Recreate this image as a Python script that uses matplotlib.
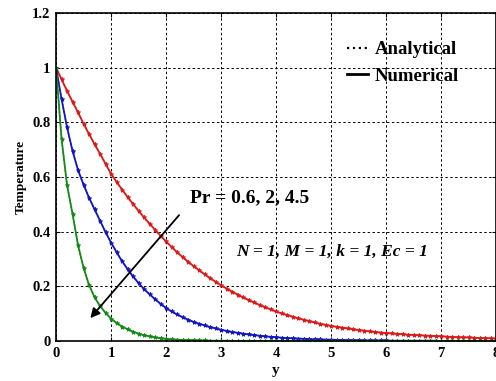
import numpy as np
import matplotlib
matplotlib.use('Agg')
import matplotlib.pyplot as plt

plt.rcParams['font.family'] = ['Liberation Serif', 'DejaVu Serif']
plt.rcParams['font.weight'] = 'bold'

# y values 0 .. 8, step 0.1
y = np.round(np.arange(0, 8.01, 0.1), 1)

# temperature, Pr = 0.6
t_pr06 = [1.000, 0.957, 0.915, 0.875, 0.836, 0.795, 0.757, 0.720, 0.685, 0.648,
          0.612, 0.582, 0.554, 0.527, 0.501, 0.476, 0.452, 0.429, 0.407, 0.385,
          0.364, 0.344, 0.325, 0.307, 0.290, 0.274, 0.259, 0.244, 0.230, 0.217,
          0.204, 0.192, 0.181, 0.170, 0.160, 0.150, 0.141, 0.132, 0.124, 0.116,
          0.108, 0.101, 0.095, 0.089, 0.083, 0.078, 0.073, 0.068, 0.063, 0.059,
          0.055, 0.052, 0.049, 0.046, 0.043, 0.040, 0.038, 0.035, 0.033, 0.031,
          0.029, 0.028, 0.026, 0.025, 0.023, 0.022, 0.021, 0.020, 0.019, 0.018,
          0.017, 0.016, 0.015, 0.014, 0.013, 0.013, 0.012, 0.011, 0.010, 0.010,
          0.009]

# Pr = 2
t_pr2 = [1.000, 0.885, 0.782, 0.695, 0.625, 0.572, 0.524, 0.482, 0.440, 0.398,
         0.360, 0.325, 0.292, 0.263, 0.236, 0.212, 0.190, 0.171, 0.153, 0.136,
         0.121, 0.108, 0.097, 0.087, 0.078, 0.070, 0.063, 0.057, 0.051, 0.046,
         0.041, 0.037, 0.033, 0.030, 0.027, 0.024, 0.022, 0.019, 0.017, 0.015,
         0.014, 0.012, 0.011, 0.010, 0.009, 0.008, 0.007, 0.006, 0.006, 0.005,
         0.005, 0.004, 0.004, 0.003, 0.003, 0.003, 0.002, 0.002, 0.002, 0.002,
         0.002, 0.001, 0.001, 0.001, 0.001, 0.001, 0.001, 0.001, 0.001, 0.001,
         0.000, 0.000, 0.000, 0.000, 0.000, 0.000, 0.000, 0.000, 0.000, 0.000,
         0.000]

# Pr = 4.5
t_pr45 = [1.000, 0.740, 0.570, 0.465, 0.350, 0.268, 0.205, 0.160, 0.128, 0.103,
          0.082, 0.066, 0.053, 0.043, 0.034, 0.027, 0.021, 0.017, 0.013, 0.010,
          0.008, 0.006, 0.005, 0.004, 0.003, 0.003, 0.002, 0.002, 0.001, 0.001,
          0.001, 0.001, 0.000, 0.000, 0.000, 0.000, 0.000, 0.000, 0.000, 0.000,
          0.000, 0.000, 0.000, 0.000, 0.000, 0.000, 0.000, 0.000, 0.000, 0.000,
          0.000, 0.000, 0.000, 0.000, 0.000, 0.000, 0.000, 0.000, 0.000, 0.000,
          0.000, 0.000, 0.000, 0.000, 0.000, 0.000, 0.000, 0.000, 0.000, 0.000,
          0.000, 0.000, 0.000, 0.000, 0.000, 0.000, 0.000, 0.000, 0.000, 0.000,
          0.000]

curves = [t_pr06, t_pr2, t_pr45]
colors = ['#e01818', '#1414c8', '#168a16']

fig = plt.figure(figsize=(4.96, 3.81), dpi=100)
ax = fig.add_axes([0.113, 0.105, 0.887, 0.861])

for t, c in zip(curves, colors):
    ax.plot(y, t, '-', color=c, lw=1.3)
    ax.plot(y, t, ':', color=c, lw=1.0, marker='*', ms=3.2, mew=0.6)

# legend made of black proxies
ax.plot([], [], ':', color='k', lw=1.6, label='Analytical')
ax.plot([], [], '-', color='k', lw=2.0, label='Numerical')
ax.legend(loc='upper right', bbox_to_anchor=(0.955, 0.965), frameon=False,
          handlelength=1.1, handletextpad=0.4, labelspacing=0.5,
          prop={'weight': 'bold', 'size': 13.5})

ax.set_xlim(0, 8)
ax.set_ylim(0, 1.2)
ax.set_xticks(range(0, 9))
ax.set_yticks([0, 0.2, 0.4, 0.6, 0.8, 1.0, 1.2])
ax.set_yticklabels(['0', '0.2', '0.4', '0.6', '0.8', '1', '1.2'])
ax.tick_params(direction='in', labelsize=10.5, length=3, right=True, top=True,
               pad=4)
for lab in ax.get_xticklabels() + ax.get_yticklabels():
    lab.set_fontweight('bold')
ax.grid(True, color='k', linestyle=(0, (2.5, 2.5)), lw=0.7)
for s in ax.spines.values():
    s.set_linewidth(1.2)

ax.set_xlabel('y', fontsize=11, fontweight='bold', labelpad=3)
ax.set_ylabel('Temperature', fontsize=9.5, fontweight='bold', labelpad=4)

ax.annotate('', xy=(0.59, 0.076), xytext=(2.27, 0.468),
            arrowprops=dict(arrowstyle='-|>', color='k', lw=1.3,
                            mutation_scale=14))
ax.text(2.44, 0.524, 'Pr = 0.6, 2, 4.5', fontsize=14, fontweight='bold',
        va='center', ha='left')
ax.text(3.28, 0.325, 'N = 1, M = 1, k = 1, Ec = 1', fontsize=12.5,
        fontweight='bold', style='italic', va='center', ha='left')

fig.savefig('out.png', dpi=100)
